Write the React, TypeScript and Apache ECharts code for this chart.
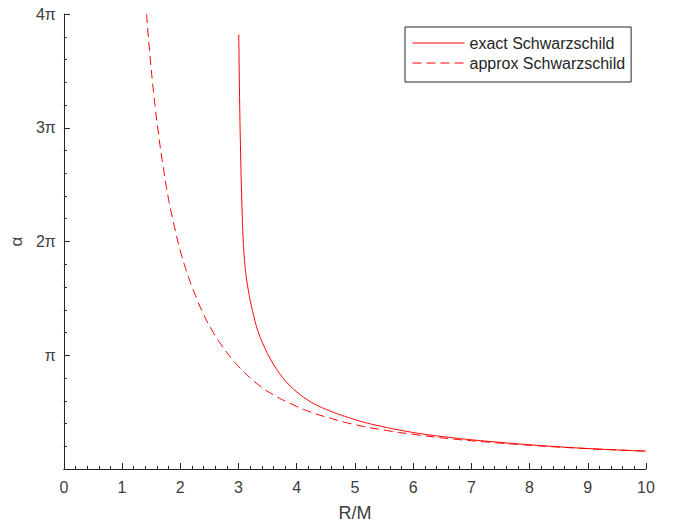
import React, { useEffect, useRef } from "react";
import * as echarts from "echarts";

// R/M values and alpha values (in units of pi)
const exactR = [3.005, 3.02, 3.04, 3.06, 3.08, 3.1, 3.13, 3.17, 3.21, 3.26, 3.33, 3.43, 3.55, 3.72, 3.86, 4.0, 4.17, 4.34, 4.55, 4.74, 5.0, 5.2, 5.5, 5.77, 6.2, 6.63, 7.0, 7.45, 8.0, 8.45, 9.0, 9.5, 10.0];
const exactA = [3.82, 3.22, 2.7, 2.3, 2.02, 1.86, 1.7, 1.57, 1.46, 1.35, 1.22, 1.09, 0.965, 0.83, 0.745, 0.678, 0.613, 0.562, 0.515, 0.478, 0.435, 0.405, 0.37, 0.342, 0.305, 0.278, 0.257, 0.236, 0.213, 0.197, 0.18, 0.168, 0.157];

const approxR = [1.421, 1.48, 1.55, 1.62, 1.7, 1.8, 1.9, 2.0, 2.12, 2.25, 2.4, 2.55, 2.7, 2.9, 3.1, 3.35, 3.6, 3.9, 4.2, 4.6, 5.0, 5.5, 6.0, 6.6, 7.3, 8.0, 9.0, 10.0];
const approxA = [4.0, 3.63, 3.27, 2.97, 2.68, 2.37, 2.13, 1.92, 1.72, 1.54, 1.36, 1.215, 1.095, 0.96, 0.85, 0.737, 0.652, 0.574, 0.508, 0.443, 0.39, 0.342, 0.305, 0.268, 0.236, 0.209, 0.179, 0.157];

const xTicks = [0, 1, 2, 3, 4, 5, 6, 7, 8, 9, 10];
const yTickLabels = ["", "π", "2π", "3π", "4π"];
const seriesNames = ["exact Schwarzschild", "approx Schwarzschild"];

export default function App() {
  const ref = useRef<HTMLDivElement>(null);
  useEffect(() => {
    document.body.style.margin = "0";
    if (!ref.current) return;
    const chart = echarts.init(ref.current, undefined, { renderer: "svg" });
    const axisColor = "#262626";
    const textColor = "#404040";
    const font = "Liberation Sans, Arial, Helvetica, sans-serif";
    chart.setOption({
      animation: false,
      backgroundColor: "#ffffff",
      grid: { left: 63, right: 32, top: 14, bottom: 55 },
      legend: {
        orient: "vertical",
        left: 405,
        top: 27,
        padding: [8, 6, 11, 7],
        itemGap: 4,
        itemWidth: 52,
        itemHeight: 14,
        borderColor: "#262626",
        borderWidth: 1,
        backgroundColor: "#ffffff",
        itemStyle: { opacity: 0 },
        lineStyle: { width: 1 },
        textStyle: { fontSize: 16, color: "#262626", fontFamily: font },
        data: seriesNames,
      },
      xAxis: {
        type: "value",
        min: xTicks[0],
        max: xTicks[xTicks.length - 1],
        interval: 1,
        name: "R/M",
        nameLocation: "middle",
        nameGap: 35,
        nameTextStyle: { fontSize: 18, color: textColor, fontFamily: font },
        axisLine: { show: true, onZero: false, lineStyle: { color: axisColor, width: 1 } },
        axisTick: { show: true, inside: true, length: 6, lineStyle: { color: axisColor } },
        minorTick: { show: true, splitNumber: 5, length: 3, lineStyle: { color: axisColor } },
        axisLabel: { fontSize: 16, color: textColor, margin: 10, fontFamily: font },
        splitLine: { show: false },
      },
      yAxis: {
        type: "value",
        min: 0,
        max: 4,
        interval: 1,
        name: "α",
        nameLocation: "middle",
        nameGap: 38,
        nameRotate: 90,
        nameTextStyle: { fontSize: 17, color: textColor, fontFamily: font },
        axisLine: { show: true, onZero: false, lineStyle: { color: axisColor, width: 1 } },
        axisTick: { show: true, inside: true, length: 6, lineStyle: { color: axisColor } },
        minorTick: { show: true, splitNumber: 5, length: 3, lineStyle: { color: axisColor } },
        axisLabel: {
          fontSize: 16,
          color: textColor,
          margin: 8,
          fontFamily: font,
          formatter: (v: number) => yTickLabels[Math.round(v)] ?? "",
        },
        splitLine: { show: false },
      },
      series: [
        {
          name: seriesNames[0],
          type: "line",
          data: exactR.map((r, i) => [r, exactA[i]]),
          symbol: "none",
          smooth: 0.5,
          lineStyle: { color: "#ff0000", width: 1 },
          itemStyle: { color: "#ff0000" },
        },
        {
          name: seriesNames[1],
          type: "line",
          data: approxR.map((r, i) => [r, approxA[i]]),
          symbol: "none",
          smooth: 0.5,
          lineStyle: { color: "#ff0000", width: 1, type: [9, 5] },
          itemStyle: { color: "#ff0000" },
        },
      ],
    });
    return () => chart.dispose();
  }, []);
  return <div ref={ref} style={{ width: 678, height: 527 }} />;
}
